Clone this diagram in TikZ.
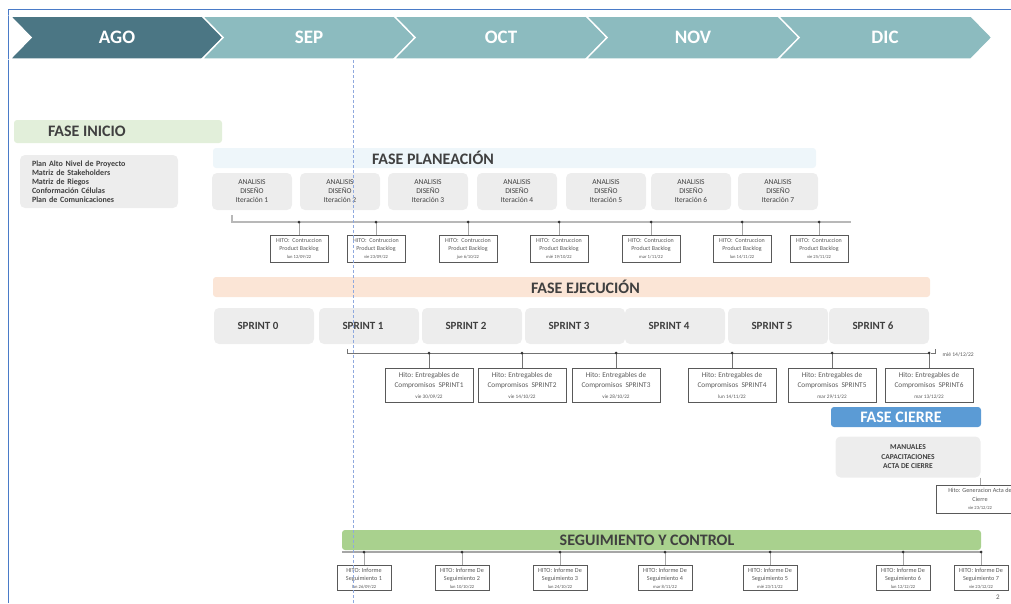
\documentclass[tikz,border=0pt]{standalone}
\usepackage{fontspec}
\setmainfont{Carlito}
\usetikzlibrary{positioning, calc}
\usepackage{xcolor}
\definecolor{MonthDark}{HTML}{4B7684}
\definecolor{MonthLight}{HTML}{8CBBBF}
\definecolor{Frame}{HTML}{4A7BC8}
\definecolor{Guide}{HTML}{8FA9DE}
\definecolor{Ink}{HTML}{404040}
\definecolor{Dim}{HTML}{595959}
\definecolor{BoxGray}{HTML}{EDEDED}
\definecolor{LineGray}{HTML}{A6A6A6}
\definecolor{InicioGreen}{HTML}{E2EFDA}
\definecolor{PlanBlue}{HTML}{EEF6FA}
\definecolor{EjecPeach}{HTML}{FBE5D6}
\definecolor{CierreBlue}{HTML}{5B9BD5}
\definecolor{SegGreen}{HTML}{A9D18E}
\newcommand{\fechatxt}[1]{{\fontsize{4.6}{6}\selectfont #1}}

\begin{document}
\begin{tikzpicture}[
            x=1pt, y=-1pt,
            month/.style={font=\fontsize{19}{19}\selectfont\bfseries, text=white},
            phaseband/.style={
                rectangle,
                rounded corners=3pt,
                minimum height=20pt,
                inner sep=0pt
            },
            phasetitle/.style={font=\fontsize{16}{16}\selectfont\bfseries, text=Ink, inner sep=0pt},
            graybox/.style={
                rectangle,
                rounded corners=5pt,
                fill=BoxGray,
                align=center,
                text=Ink,
                inner sep=0pt
            },
            iterbox/.style={graybox, minimum width=80pt, minimum height=37pt, font=\fontsize{7.5}{9}\selectfont},
            sprintbox/.style={graybox, minimum width=100pt, minimum height=36pt},
            sprintlabel/.style={font=\fontsize{11}{11}\selectfont\bfseries, text=Ink},
            hitobox/.style={
                rectangle,
                draw=Dim,
                line width=1pt,
                fill=white,
                align=center,
                text=Dim,
                inner sep=0pt
            },
            planhito/.style={hitobox, minimum width=58pt, minimum height=27pt, font=\fontsize{6}{8}\selectfont},
            ejechito/.style={hitobox, minimum width=88pt, minimum height=34pt, font=\fontsize{7.3}{10.5}\selectfont},
            seghito/.style={hitobox, minimum width=54pt, minimum height=25pt, font=\fontsize{6.2}{8}\selectfont},
            stem/.style={LineGray, line width=0.7pt},
            dot/.style={fill=black!80}
        ]
            \useasboundingbox (0,0) rectangle (1011,603);
            \clip (0,0) rectangle (1011,603);

            % Frame
            \draw[Frame, line width=1pt] (8,603) -- (8,9) -- (1011,9);

            % Month chevrons
            \foreach \m/\c [count=\i from 0] in {AGO/MonthDark, SEP/MonthLight, OCT/MonthLight, NOV/MonthLight, DIC/MonthLight} {
                \pgfmathsetmacro{\xa}{10+192*\i}
                \path[fill=\c, draw=white, line width=1.5pt] (\xa,16) -- ++(193,0) -- ++(21,21.5) -- ++(-21,21.5) -- ++(-193,0) -- ++(21,-21.5) -- cycle;
                \node[month] (m\i) at (\xa+107,37.5) {\m};
            }

            % Fase inicio
            \node[phaseband, fill=InicioGreen, minimum width=208pt, minimum height=23pt] (inicio) at (118,131.5) {};
            \node[phasetitle, anchor=west, right=34pt of inicio.west] (iniciotxt) {FASE INICIO};
            \node[graybox, minimum width=158pt, minimum height=53pt, text width=134pt, align=left,
                  font=\fontsize{8}{9}\selectfont\bfseries] (iniciolist) at (99,181.5)
                {Plan Alto Nivel de Proyecto\\Matriz de Stakeholders\\Matriz de Riegos\\Conformación Células\\Plan de Comunicaciones};

            % Fase planeacion
            \node[phaseband, fill=PlanBlue, minimum width=603pt] (plan) at (514.5,158) {};
            \node[phasetitle, anchor=west, right=159pt of plan.west] (plantxt) {FASE PLANEACIÓN};
            \foreach \x [count=\i] in {252,340,428,517,606,691,778}
                \node[iterbox] (it\i) at (\x,191.5) {ANALISIS\\DISEÑO\\Iteración \i};

            \coordinate (pstart) at (232,215);
            \coordinate (pend) at (851,222);
            \draw[LineGray!80, line width=1.8pt] (pstart) |- (pend);
            \foreach \x/\dt [count=\i] in {299/{lun 12/09/22}, 376/{vie 23/09/22}, 468/{jue 6/10/22}, 559/{mié 19/10/22}, 651/{mar 1/11/22}, 742/{lun 14/11/22}, 819/{vie 25/11/22}} {
                \coordinate (pd\i) at (\x,222);
                \node[planhito, below=13pt of pd\i] (ph\i) {HITO:\ \ Contruccion\\Product Backlog\\\fechatxt{\dt}};
                \draw[stem] (pd\i) -- (ph\i.north);
                \fill[dot] (pd\i) circle (1.5pt);
            }

            % Fase ejecucion
            \node[phaseband, fill=EjecPeach, minimum width=717pt] (ejec) at (571.5,287) {};
            \node[phasetitle, anchor=west, right=318pt of ejec.west] (ejectxt) {FASE EJECUCIÓN};
            \foreach \x [count=\i from 0] in {264,369,472,575,675,778,879} {
                \node[sprintbox] (sp\i) at (\x,326) {};
                \node[sprintlabel, xshift=-6pt] (spl\i) at (sp\i) {SPRINT \i};
            }

            \coordinate (estart) at (347,349);
            \coordinate (eend) at (929,353);
            \draw[black!55, line width=0.8pt] (estart) |- (eend);
            \draw[black!55, line width=0.6pt] ($(eend)+(2,0)$) -- ++(4,0) -- ++(0,-4);
            \node[font=\fontsize{5.6}{6}\selectfont, text=Dim, anchor=west] (efin) at (939,355) {mié 14/12/22};
            \foreach \x/\dt [count=\i] in {429/{vie 30/09/22}, 522/{vie 14/10/22}, 616/{vie 28/10/22}, 732/{lun 14/11/22}, 832/{mar 29/11/22}, 929/{mar 13/12/22}} {
                \coordinate (ed\i) at (\x,353);
                \node[ejechito, below=15pt of ed\i] (eh\i) {Hito: Entregables de\\Compromisos\ \ SPRINT\i\\{\fontsize{5.2}{6}\selectfont\dt}};
                \draw[black!55, line width=0.6pt] (ed\i) -- (eh\i.north);
                \fill[dot] (ed\i) circle (1.5pt);
            }

            % Fase cierre
            \node[phaseband, fill=CierreBlue, minimum width=150pt] (cierre) at (906,417) {};
            \node[phasetitle, text=white] (cierretxt) at (901,417) {FASE CIERRE};
            \node[graybox, minimum width=145pt, minimum height=41pt, font=\fontsize{7.5}{9.5}\selectfont\bfseries] (cierrebox) at (908,457)
                {MANUALES\\CAPACITACIONES\\ACTA DE CIERRE};
            \node[hitobox, minimum width=88pt, minimum height=28pt, font=\fontsize{6.2}{8.5}\selectfont] (chito) at (980,499)
                {Hito: Generacion Acta de\\Cierre\\\fechatxt{vie 23/12/22}};
            \draw[stem] (chito.north |- cierrebox.south) -- (chito.north);

            % Seguimiento y control
            \node[phaseband, fill=SegGreen, minimum width=639pt] (seg) at (661.5,540) {};
            \node[phasetitle] (segtxt) at (647,540) {SEGUIMIENTO Y CONTROL};
            \coordinate (sstart) at (342,552);
            \coordinate (send) at (981,552);
            \draw[LineGray, line width=1.8pt] (sstart) -- (send);
            \foreach \x/\t/\dt [count=\i] in {364/{HITO: Informe}/{lun 26/09/22}, 462/{HITO: Informe De}/{lun 10/10/22}, 560/{HITO: Informe De}/{lun 24/10/22}, 665/{HITO: Informe De}/{mar 8/11/22}, 770/{HITO: Informe De}/{mié 23/11/22}, 903/{HITO: Informe De}/{lun 12/12/22}, 981/{HITO: Informe De}/{vie 23/12/22}} {
                \coordinate (sd\i) at (\x,552);
                \node[seghito, below=13pt of sd\i] (sh\i) {\t\\Seguimiento \i\\\fechatxt{\dt}};
                \draw[stem] (sd\i) -- (sh\i.north);
                \fill[dot] (sd\i) circle (1.5pt);
            }

            % Page number
            \node[font=\fontsize{7}{7}\selectfont, text=Dim] (pagina) at (998,597) {2};

            % Guide line
            \draw[Guide, dash pattern=on 3pt off 2pt, line width=0.8pt] (353,60) -- (353,603);
        \end{tikzpicture}
\end{document}
